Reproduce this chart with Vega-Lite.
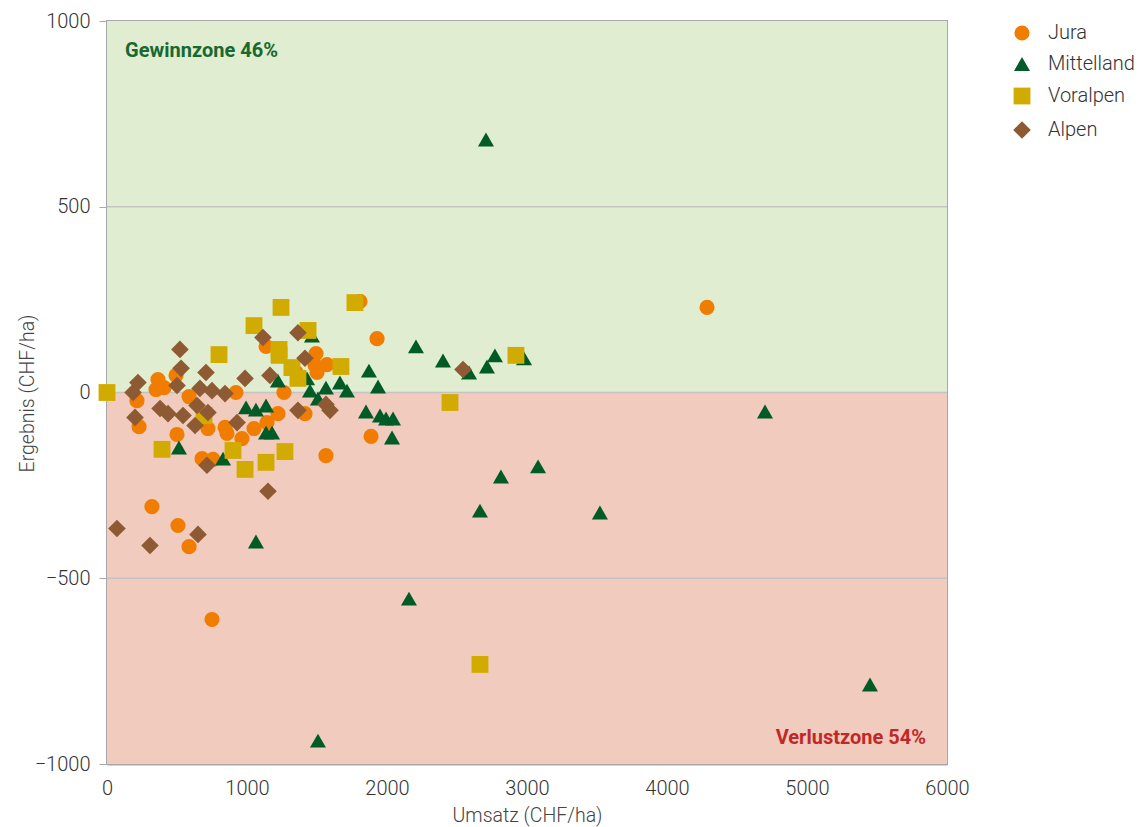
{
  "$schema": "https://vega.github.io/schema/vega-lite/v6.json",
  "width": 840,
  "height": 743,
  "autosize": "none",
  "padding": {"left": 107, "top": 21, "right": 197, "bottom": 63},
  "background": "white",
  "config": {
    "font": "Roboto",
    "view": {"stroke": "#a8a8a8", "strokeWidth": 2},
    "axis": {"labelFont": "Roboto", "titleFont": "Roboto", "labelColor": "#333333", "titleColor": "#444444", "labelFontSize": 20, "labelFontWeight": 300, "titleFontSize": 19.5, "titleFontWeight": 300, "domainColor": "#a8a8a8", "domainWidth": 2, "tickColor": "#a8a8a8", "grid": false}
  },
  "datasets": {
    "zones": [
      {"x": 0, "x2": 6000, "y": 0, "y2": 1000, "zone": "Gewinn"},
      {"x": 0, "x2": 6000, "y": -1000, "y2": 0, "zone": "Verlust"}
    ],
    "grid": [{"y": -500}, {"y": 0}, {"y": 500}],
    "gain": [{"x": 129, "y": 920, "text": "Gewinnzone 46%"}],
    "loss": [{"x": 5850, "y": -930, "text": "Verlustzone 54%"}],
    "points": [
      {"region": "Jura", "umsatz": 0, "ergebnis": 0},
      {"region": "Jura", "umsatz": 214, "ergebnis": -22},
      {"region": "Jura", "umsatz": 229, "ergebnis": -92},
      {"region": "Jura", "umsatz": 321, "ergebnis": -307},
      {"region": "Jura", "umsatz": 364, "ergebnis": 35},
      {"region": "Jura", "umsatz": 407, "ergebnis": 13},
      {"region": "Jura", "umsatz": 350, "ergebnis": 8},
      {"region": "Jura", "umsatz": 493, "ergebnis": 46},
      {"region": "Jura", "umsatz": 586, "ergebnis": -11},
      {"region": "Jura", "umsatz": 500, "ergebnis": -113},
      {"region": "Jura", "umsatz": 393, "ergebnis": -153},
      {"region": "Jura", "umsatz": 507, "ergebnis": -358},
      {"region": "Jura", "umsatz": 586, "ergebnis": -415},
      {"region": "Jura", "umsatz": 721, "ergebnis": -97},
      {"region": "Jura", "umsatz": 679, "ergebnis": -178},
      {"region": "Jura", "umsatz": 757, "ergebnis": -180},
      {"region": "Jura", "umsatz": 750, "ergebnis": -611},
      {"region": "Jura", "umsatz": 843, "ergebnis": -94},
      {"region": "Jura", "umsatz": 857, "ergebnis": -110},
      {"region": "Jura", "umsatz": 921, "ergebnis": 0},
      {"region": "Jura", "umsatz": 964, "ergebnis": -124},
      {"region": "Jura", "umsatz": 1050, "ergebnis": -97},
      {"region": "Jura", "umsatz": 1136, "ergebnis": 124},
      {"region": "Jura", "umsatz": 1143, "ergebnis": -81},
      {"region": "Jura", "umsatz": 1221, "ergebnis": -57},
      {"region": "Jura", "umsatz": 1264, "ergebnis": 0},
      {"region": "Jura", "umsatz": 1350, "ergebnis": 54},
      {"region": "Jura", "umsatz": 1493, "ergebnis": 105},
      {"region": "Jura", "umsatz": 1486, "ergebnis": 73},
      {"region": "Jura", "umsatz": 1500, "ergebnis": 54},
      {"region": "Jura", "umsatz": 1414, "ergebnis": -57},
      {"region": "Jura", "umsatz": 1571, "ergebnis": 75},
      {"region": "Jura", "umsatz": 1564, "ergebnis": -170},
      {"region": "Jura", "umsatz": 1807, "ergebnis": 245},
      {"region": "Jura", "umsatz": 1929, "ergebnis": 145},
      {"region": "Jura", "umsatz": 1886, "ergebnis": -118},
      {"region": "Jura", "umsatz": 4286, "ergebnis": 229},
      {"region": "Mittelland", "umsatz": 0, "ergebnis": 0},
      {"region": "Mittelland", "umsatz": 514, "ergebnis": -148},
      {"region": "Mittelland", "umsatz": 829, "ergebnis": -178},
      {"region": "Mittelland", "umsatz": 1064, "ergebnis": -401},
      {"region": "Mittelland", "umsatz": 993, "ergebnis": -40},
      {"region": "Mittelland", "umsatz": 1064, "ergebnis": -46},
      {"region": "Mittelland", "umsatz": 1136, "ergebnis": -35},
      {"region": "Mittelland", "umsatz": 1136, "ergebnis": -108},
      {"region": "Mittelland", "umsatz": 1179, "ergebnis": -108},
      {"region": "Mittelland", "umsatz": 1221, "ergebnis": 32},
      {"region": "Mittelland", "umsatz": 1429, "ergebnis": 38},
      {"region": "Mittelland", "umsatz": 1464, "ergebnis": 153},
      {"region": "Mittelland", "umsatz": 1450, "ergebnis": 5},
      {"region": "Mittelland", "umsatz": 1507, "ergebnis": -16},
      {"region": "Mittelland", "umsatz": 1507, "ergebnis": -937},
      {"region": "Mittelland", "umsatz": 1564, "ergebnis": 13},
      {"region": "Mittelland", "umsatz": 1664, "ergebnis": 27},
      {"region": "Mittelland", "umsatz": 1714, "ergebnis": 5},
      {"region": "Mittelland", "umsatz": 1871, "ergebnis": 59},
      {"region": "Mittelland", "umsatz": 1850, "ergebnis": -51},
      {"region": "Mittelland", "umsatz": 1936, "ergebnis": 16},
      {"region": "Mittelland", "umsatz": 1950, "ergebnis": -62},
      {"region": "Mittelland", "umsatz": 1993, "ergebnis": -70},
      {"region": "Mittelland", "umsatz": 2043, "ergebnis": -70},
      {"region": "Mittelland", "umsatz": 2036, "ergebnis": -121},
      {"region": "Mittelland", "umsatz": 2157, "ergebnis": -555},
      {"region": "Mittelland", "umsatz": 2207, "ergebnis": 124},
      {"region": "Mittelland", "umsatz": 2400, "ergebnis": 86},
      {"region": "Mittelland", "umsatz": 2586, "ergebnis": 54},
      {"region": "Mittelland", "umsatz": 2664, "ergebnis": -318},
      {"region": "Mittelland", "umsatz": 2707, "ergebnis": 681},
      {"region": "Mittelland", "umsatz": 2714, "ergebnis": 70},
      {"region": "Mittelland", "umsatz": 2771, "ergebnis": 100},
      {"region": "Mittelland", "umsatz": 2814, "ergebnis": -226},
      {"region": "Mittelland", "umsatz": 2979, "ergebnis": 92},
      {"region": "Mittelland", "umsatz": 3079, "ergebnis": -199},
      {"region": "Mittelland", "umsatz": 3521, "ergebnis": -323},
      {"region": "Mittelland", "umsatz": 4700, "ergebnis": -51},
      {"region": "Mittelland", "umsatz": 5450, "ergebnis": -786},
      {"region": "Voralpen", "umsatz": 0, "ergebnis": 0},
      {"region": "Voralpen", "umsatz": 393, "ergebnis": -153},
      {"region": "Voralpen", "umsatz": 800, "ergebnis": 102},
      {"region": "Voralpen", "umsatz": 693, "ergebnis": -62},
      {"region": "Voralpen", "umsatz": 900, "ergebnis": -156},
      {"region": "Voralpen", "umsatz": 986, "ergebnis": -207},
      {"region": "Voralpen", "umsatz": 1050, "ergebnis": 180},
      {"region": "Voralpen", "umsatz": 1136, "ergebnis": -188},
      {"region": "Voralpen", "umsatz": 1243, "ergebnis": 229},
      {"region": "Voralpen", "umsatz": 1229, "ergebnis": 116},
      {"region": "Voralpen", "umsatz": 1229, "ergebnis": 100},
      {"region": "Voralpen", "umsatz": 1271, "ergebnis": -159},
      {"region": "Voralpen", "umsatz": 1321, "ergebnis": 67},
      {"region": "Voralpen", "umsatz": 1364, "ergebnis": 38},
      {"region": "Voralpen", "umsatz": 1436, "ergebnis": 167},
      {"region": "Voralpen", "umsatz": 1771, "ergebnis": 242},
      {"region": "Voralpen", "umsatz": 1671, "ergebnis": 70},
      {"region": "Voralpen", "umsatz": 2450, "ergebnis": -27},
      {"region": "Voralpen", "umsatz": 2664, "ergebnis": -732},
      {"region": "Voralpen", "umsatz": 2921, "ergebnis": 100},
      {"region": "Alpen", "umsatz": 521, "ergebnis": 116},
      {"region": "Alpen", "umsatz": 1114, "ergebnis": 148},
      {"region": "Alpen", "umsatz": 529, "ergebnis": 65},
      {"region": "Alpen", "umsatz": 707, "ergebnis": 54},
      {"region": "Alpen", "umsatz": 986, "ergebnis": 38},
      {"region": "Alpen", "umsatz": 1164, "ergebnis": 46},
      {"region": "Alpen", "umsatz": 221, "ergebnis": 27},
      {"region": "Alpen", "umsatz": 186, "ergebnis": 0},
      {"region": "Alpen", "umsatz": 500, "ergebnis": 19},
      {"region": "Alpen", "umsatz": 664, "ergebnis": 11},
      {"region": "Alpen", "umsatz": 750, "ergebnis": 5},
      {"region": "Alpen", "umsatz": 843, "ergebnis": -3},
      {"region": "Alpen", "umsatz": 379, "ergebnis": -43},
      {"region": "Alpen", "umsatz": 436, "ergebnis": -57},
      {"region": "Alpen", "umsatz": 543, "ergebnis": -62},
      {"region": "Alpen", "umsatz": 721, "ergebnis": -54},
      {"region": "Alpen", "umsatz": 200, "ergebnis": -67},
      {"region": "Alpen", "umsatz": 929, "ergebnis": -81},
      {"region": "Alpen", "umsatz": 629, "ergebnis": -89},
      {"region": "Alpen", "umsatz": 643, "ergebnis": -35},
      {"region": "Alpen", "umsatz": 714, "ergebnis": -196},
      {"region": "Alpen", "umsatz": 71, "ergebnis": -366},
      {"region": "Alpen", "umsatz": 307, "ergebnis": -412},
      {"region": "Alpen", "umsatz": 650, "ergebnis": -382},
      {"region": "Alpen", "umsatz": 1150, "ergebnis": -266},
      {"region": "Alpen", "umsatz": 1364, "ergebnis": 161},
      {"region": "Alpen", "umsatz": 1414, "ergebnis": 92},
      {"region": "Alpen", "umsatz": 1364, "ergebnis": -48},
      {"region": "Alpen", "umsatz": 1593, "ergebnis": -48},
      {"region": "Alpen", "umsatz": 1564, "ergebnis": -32},
      {"region": "Alpen", "umsatz": 2543, "ergebnis": 62}
    ]
  },
  "layer": [
    {
      "data": {"name": "zones"},
      "mark": {"type": "rect"},
      "encoding": {
        "x": {"field": "x", "type": "quantitative", "scale": {"domain": [0, 6000], "nice": false}, "axis": {"title": "Umsatz (CHF/ha)", "values": [0, 1000, 2000, 3000, 4000, 5000, 6000], "format": "d", "ticks": false, "labelFlush": false, "labelPadding": 14, "titleY": 51, "titleBaseline": "middle"}},
        "x2": {"field": "x2"},
        "y": {"field": "y", "type": "quantitative", "scale": {"domain": [-1000, 1000], "nice": false}, "axis": {"title": "Ergebnis (CHF/ha)", "values": [-1000, -500, 0, 500, 1000], "format": "d", "tickSize": 8, "labelPadding": 9, "labelFlush": false, "titleX": -80, "titleY": 372, "titleAngle": -90, "titleBaseline": "middle", "titleAlign": "center"}},
        "y2": {"field": "y2"},
        "fill": {"field": "zone", "type": "nominal", "scale": {"domain": ["Gewinn", "Verlust"], "range": ["#e0edd0", "#f1cbbd"]}, "legend": null}
      }
    },
    {
      "data": {"name": "grid"},
      "mark": {"type": "rule", "color": "#c4c4c4", "strokeWidth": 1.5},
      "encoding": {"y": {"field": "y", "type": "quantitative"}}
    },
    {
      "data": {"name": "points"},
      "mark": {"type": "point", "filled": true, "opacity": 1},
      "encoding": {
        "x": {"field": "umsatz", "type": "quantitative"},
        "y": {"field": "ergebnis", "type": "quantitative"},
        "color": {"field": "region", "type": "nominal", "scale": {"domain": ["Jura", "Mittelland", "Voralpen", "Alpen"], "range": ["#f07d00", "#005b26", "#d2ab00", "#8e5a33"]},
          "legend": {"title": null, "orient": "none", "legendX": 905, "legendY": 2, "labelFont": "Roboto", "labelFontSize": 20, "labelFontWeight": 300, "labelColor": "#333333", "rowPadding": 10, "labelOffset": 16, "symbolOpacity": 1}},
        "shape": {"field": "region", "type": "nominal", "scale": {"domain": ["Jura", "Mittelland", "Voralpen", "Alpen"], "range": ["circle", "triangle-up", "square", "diamond"]}},
        "size": {"field": "region", "type": "nominal", "scale": {"domain": ["Jura", "Mittelland", "Voralpen", "Alpen"], "range": [230, 310, 240, 290]}}
      }
    },
    {
      "data": {"name": "gain"},
      "mark": {"type": "text", "fontWeight": "bold", "fontSize": 20, "font": "Roboto", "align": "left", "baseline": "middle", "color": "#17692f"},
      "encoding": {
        "x": {"field": "x", "type": "quantitative"},
        "y": {"field": "y", "type": "quantitative"},
        "text": {"field": "text"}
      }
    },
    {
      "data": {"name": "loss"},
      "mark": {"type": "text", "fontWeight": "bold", "fontSize": 20, "font": "Roboto", "align": "right", "baseline": "middle", "color": "#c0282a"},
      "encoding": {
        "x": {"field": "x", "type": "quantitative"},
        "y": {"field": "y", "type": "quantitative"},
        "text": {"field": "text"}
      }
    }
  ]
}
